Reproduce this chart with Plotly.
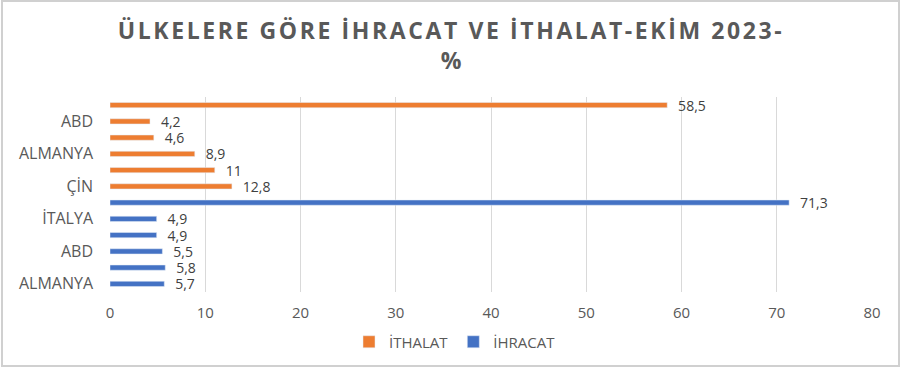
import plotly.graph_objects as go

# Categories (bottom-up order as drawn); hidden labels were skipped by the original chart
ithalat_cats = ["İTH-ÇİN", "İTH-RUSYA", "İTH-ALMANYA", "İTH-İSVİÇRE", "İTH-ABD", "İTH-DİĞER"]
ithalat_vals = [12.8, 11, 8.9, 4.6, 4.2, 58.5]
ihracat_cats = ["İHR-ALMANYA", "İHR-İNGİLTERE", "İHR-ABD", "İHR-IRAK", "İHR-İTALYA", "İHR-DİĞER"]
ihracat_vals = [5.7, 5.8, 5.5, 4.9, 4.9, 71.3]
shown_ticks = ["İHR-ALMANYA", "İHR-ABD", "İHR-İTALYA", "İTH-ÇİN", "İTH-ALMANYA", "İTH-ABD"]
shown_text = ["ALMANYA", "ABD", "İTALYA", "ÇİN", "ALMANYA", "ABD"]
x_ticks = [0, 10, 20, 30, 40, 50, 60, 70, 80]

W, H = 902, 369
ML, MR, MT, MB = 110, 30, 97, 77
pw, ph = W - ML - MR, H - MT - MB

def fmt(v):
    return "\u00a0\u00a0\u00a0" + f"{v:g}".replace(".", ",")

font_family = "Open Sans, Liberation Sans, sans-serif"

fig = go.Figure()
fig.add_trace(go.Bar(
    y=ithalat_cats, x=ithalat_vals, orientation="h", name="İTHALAT",
    marker=dict(color="#ED7D31"), width=0.32,
    text=[fmt(v) for v in ithalat_vals], textposition="outside",
    constraintext="none",
    textfont=dict(size=14, color="#404040", family=font_family),
    cliponaxis=False,
))
fig.add_trace(go.Bar(
    y=ihracat_cats, x=ihracat_vals, orientation="h", name="İHRACAT",
    marker=dict(color="#4472C4"), width=0.32,
    text=[fmt(v) for v in ihracat_vals], textposition="outside",
    constraintext="none",
    textfont=dict(size=14, color="#404040", family=font_family),
    cliponaxis=False,
))

fig.update_layout(
    width=W, height=H,
    margin=dict(l=ML, r=MR, t=MT, b=MB, autoexpand=False),
    paper_bgcolor="white", plot_bgcolor="white",
    barmode="overlay",
    font=dict(family=font_family, color="#595959", size=14),
    title=dict(
        text='<span style="letter-spacing:2.6px"><b>ÜLKELERE GÖRE İHRACAT VE İTHALAT-EKİM 2023-</b></span><br><b>%</b>',
        x=0.5, xanchor="center", y=(H - 39) / H, yanchor="middle",
        font=dict(size=23, color="#595959", family=font_family),
    ),
    xaxis=dict(
        range=[0, 80], tickvals=x_ticks, showgrid=True, gridcolor="#D9D9D9",
        gridwidth=1, zeroline=False, showline=False, ticks="",
        tickfont=dict(size=15, color="#595959"), automargin=False,
        ticklabelstandoff=10,
    ),
    yaxis=dict(
        type="category", categoryorder="array",
        categoryarray=ihracat_cats + ithalat_cats,
        tickvals=shown_ticks, ticktext=shown_text,
        showgrid=False, zeroline=False, showline=False, ticks="",
        tickfont=dict(size=16, color="#595959"), automargin=False,
        ticklabelstandoff=16,
    ),
    legend=dict(
        orientation="h", x=(455 - ML) / pw, xanchor="center",
        y=(ph - (342 - MT)) / ph, yanchor="middle",
        font=dict(size=15, color="#595959"),
        itemwidth=30, traceorder="normal",
    ),
    showlegend=True,
)

# chart outer border
fig.add_shape(
    type="rect", xref="paper", yref="paper",
    x0=(2 - ML) / pw, x1=(899 - ML) / pw,
    y0=(ph - (366 - MT)) / ph, y1=(ph - (1 - MT)) / ph,
    line=dict(color="#D0D0D0", width=2), fillcolor="rgba(0,0,0,0)", layer="below",
)

fig.write_html("out.html", config={"displayModeBar": False},
               post_script="document.body.style.margin='0';")
